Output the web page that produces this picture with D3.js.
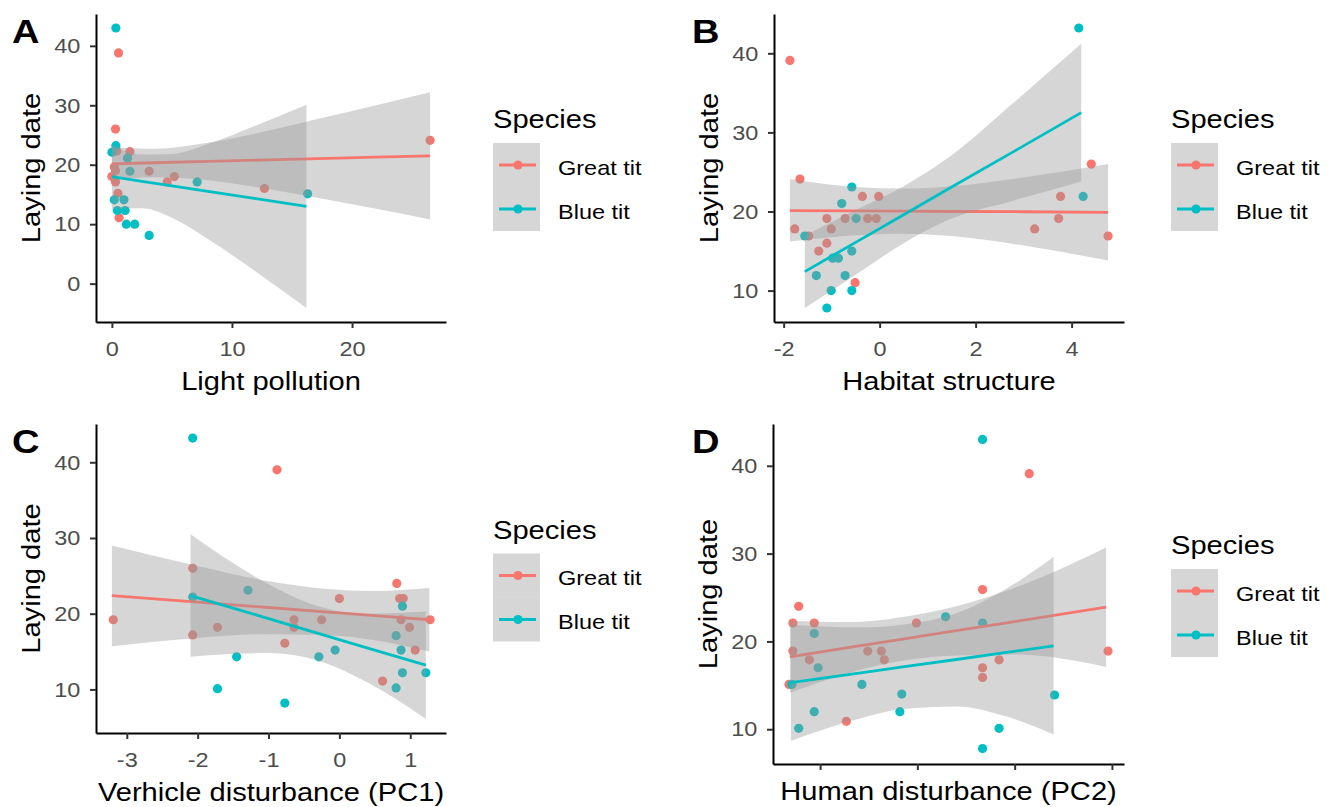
<!DOCTYPE html>
<html>
<head>
<meta charset="utf-8">
<script src="https://cdn.jsdelivr.net/npm/d3@7"></script>
<style>
  body { margin: 0; background: #fff; }
  text { font-family: "Liberation Sans", Arial, sans-serif; }
</style>
</head>
<body>
<svg width="1331" height="807"></svg>
<script>
var species = ["Great tit", "Blue tit"];
var speciesColors = ["#F8766D", "#00BFC4"];

// ---- A: light pollution ----
var lightGreatX = [0.55, 0.3, 0.4, 1.5, 0.3, 0, 0.3, 0.5, 0.6, 3.1, 4.6, 5.2, 12.7, 26.5, 0.2];
var lightGreatY = [38.8, 26.0, 22.3, 22.2, 19.0, 18.0, 17.1, 15.2, 11.1, 18.9, 17.1, 18.0, 16.0, 24.1, 19.6];
var lightBlueX = [0.33, 0.33, 0, 1.3, 1.5, 7.1, 0.2, 1.0, 0.45, 1.1, 1.2, 1.9, 3.1, 16.3];
var lightBlueY = [43.0, 23.2, 22.1, 21.1, 18.9, 17.1, 14.1, 14.1, 12.3, 12.3, 10.0, 10.0, 8.1, 15.1];
var lightGreatFitX = [0, 3.5, 8, 13, 18, 22, 26.5];
var lightGreatFit = [20.15, 20.33, 20.56, 20.81, 21.07, 21.27, 21.5];
var lightGreatHi = [23.0, 22.7, 23.7, 25.7, 28.1, 30.0, 32.2];
var lightGreatLo = [17.3, 17.9, 17.4, 15.9, 14.1, 12.6, 10.8];
var lightBlueFitX = [0, 2.5, 5, 8, 12, 16.2];
var lightBlueFit = [18.0, 17.2, 16.45, 15.5, 14.3, 13.0];
var lightBlueHi = [23.4, 21.7, 21.8, 23.5, 26.6, 30.1];
var lightBlueLo = [12.6, 12.7, 11.1, 7.5, 2.0, -4.1];

// ---- B: habitat structure ----
var habitatGreatX = [-1.87, -1.77, -1.66, -1.48, -1.27, -1.10, -1.10, -1.01, -0.72, -0.51, -0.36, -0.25, -0.07, -0.02, 3.23, 3.73, 3.77, 4.41, 4.76];
var habitatGreatY = [39.1, 17.8, 24.1, 16.9, 15.0, 19.1, 16.0, 17.8, 19.1, 11.0, 21.9, 19.1, 19.1, 21.9, 17.8, 19.1, 21.9, 26.0, 16.9];
var habitatBlueX = [4.15, 4.24, -1.56, -1.32, -1.10, -1.01, -0.58, -0.72, -0.98, -0.86, -0.58, -0.79, -0.58, -0.49];
var habitatBlueY = [43.2, 21.9, 16.9, 11.9, 7.8, 10.0, 10.0, 11.9, 14.1, 14.1, 15.0, 21.0, 23.1, 19.1];
var habitatGreatFitX = [-1.87, -0.5, 0.5, 1.5, 3, 4.76];
var habitatGreatFit = [20.1, 20.07, 20.04, 20.0, 19.97, 19.9];
var habitatGreatHi = [24.1, 23.1, 22.9, 23.2, 24.3, 26.0];
var habitatGreatLo = [16.2, 17.0, 17.2, 16.9, 15.7, 13.8];
var habitatBlueFitX = [-1.56, -0.5, 0.5, 1.5, 2.8, 4.2];
var habitatBlueFit = [12.4, 16.1, 19.6, 23.1, 27.6, 32.5];
var habitatBlueHi = [17.0, 20.2, 23.2, 27.1, 33.8, 41.2];
var habitatBlueLo = [7.8, 12.0, 16.0, 19.1, 21.4, 23.8];

// ---- C: vehicle disturbance (PC1) ----
var vehicleGreatX = [-3.19, -2.07, -2.07, -1.72, -0.88, -0.77, -0.64, -0.64, -0.25, 0, 0.61, 0.81, 0.85, 0.90, 0.87, 0.99, 1.07, 1.28];
var vehicleGreatY = [19.2, 26.0, 17.2, 18.2, 39.0, 16.1, 19.2, 18.2, 19.2, 22.0, 11.1, 24.0, 22.0, 22.0, 19.2, 18.2, 15.2, 19.2];
var vehicleBlueX = [-2.07, -2.07, -1.29, -1.45, -1.72, -0.77, -0.29, -0.06, 0.80, 0.89, 0.87, 0.89, 0.80, 1.22];
var vehicleBlueY = [43.2, 22.2, 23.1, 14.3, 10.1, 8.2, 14.3, 15.2, 17.1, 21.0, 15.2, 12.2, 10.2, 12.2];
var vehicleGreatFitX = [-3.21, -2, -1, -0.2, 0.5, 1.27];
var vehicleGreatFit = [22.4, 21.54, 20.82, 20.25, 19.75, 19.2];
var vehicleGreatHi = [29.0, 26.3, 24.3, 23.3, 23.0, 23.4];
var vehicleGreatLo = [15.7, 16.8, 17.3, 17.2, 16.5, 15.0];
var vehicleBlueFitX = [-2.1, -1.5, -1, -0.3, 0.4, 1.22];
var vehicleBlueFit = [22.4, 20.74, 19.35, 17.4, 15.46, 13.2];
var vehicleBlueHi = [30.5, 26.7, 23.9, 21.0, 20.0, 20.3];
var vehicleBlueLo = [14.3, 14.7, 14.8, 13.8, 10.9, 6.1];

// ---- D: human disturbance (PC2) ----
var humanGreatX = [-1.32, -1.28, -1.28, -1.22, -1.11, -1.06, -0.73, -0.51, -0.37, -0.34, -0.01, 0.67, 0.67, 0.67, 0.84, 1.15, 1.96];
var humanGreatY = [15.1, 22.1, 18.9, 24.0, 17.9, 22.1, 10.9, 18.9, 18.9, 17.9, 22.1, 25.9, 17.0, 15.9, 17.9, 39.1, 18.9];
var humanBlueX = [0.67, 0.29, 0.67, -1.06, -1.02, -1.29, -1.22, -1.06, -0.57, -0.16, -0.18, 0.67, 0.84, 1.41];
var humanBlueY = [43.0, 22.8, 22.1, 20.9, 17.0, 15.1, 10.1, 12.0, 15.1, 14.0, 12.0, 7.8, 10.1, 13.9];
var humanGreatFitX = [-1.31, -0.7, -0.2, 0.4, 1.0, 1.94];
var humanGreatFit = [18.25, 19.31, 20.18, 21.22, 22.26, 23.9];
var humanGreatHi = [22.35, 22.2, 22.7, 24.0, 26.1, 30.7];
var humanGreatLo = [14.15, 16.4, 17.7, 18.4, 18.5, 17.1];
var humanBlueFitX = [-1.30, -0.6, -0.15, 0.4, 0.9, 1.40];
var humanBlueFit = [15.3, 16.39, 17.09, 17.94, 18.72, 19.5];
var humanBlueHi = [21.9, 21.6, 21.9, 23.2, 25.9, 29.6];
var humanBlueLo = [8.7, 11.2, 12.3, 12.6, 11.5, 9.4];

// tick values / labels
var lightTicks = [0, 10, 20];
var habitatTicks = [-2, 0, 2, 4];
var vehicleTicks = [-3, -2, -1, 0, 1];
var humanTicks = [-1, 0, 1, 2];
var humanTickLabels = ["", "", "", ""];
var yTicksA = [0, 10, 20, 30, 40];
var yTicksOther = [10, 20, 30, 40];

function group(x, y, fx, f, lo, hi) {
  return {x: x, y: y, fx: fx, f: f, lo: lo, hi: hi};
}

var panels = [
  {letter: "A", xlab: "Light pollution", xTicks: lightTicks, yTicks: yTicksA,
   left: 96, right: 446, top: 14, bottom: 322, lx: 12,
   groups: [group(lightGreatX, lightGreatY, lightGreatFitX, lightGreatFit, lightGreatLo, lightGreatHi),
            group(lightBlueX, lightBlueY, lightBlueFitX, lightBlueFit, lightBlueLo, lightBlueHi)]},
  {letter: "B", xlab: "Habitat structure", xTicks: habitatTicks, yTicks: yTicksOther,
   left: 774, right: 1124, top: 14, bottom: 322, lx: 692,
   groups: [group(habitatGreatX, habitatGreatY, habitatGreatFitX, habitatGreatFit, habitatGreatLo, habitatGreatHi),
            group(habitatBlueX, habitatBlueY, habitatBlueFitX, habitatBlueFit, habitatBlueLo, habitatBlueHi)]},
  {letter: "C", xlab: "Verhicle disturbance (PC1)", xTicks: vehicleTicks, yTicks: yTicksOther,
   left: 96, right: 446, top: 424, bottom: 733, lx: 12,
   groups: [group(vehicleGreatX, vehicleGreatY, vehicleGreatFitX, vehicleGreatFit, vehicleGreatLo, vehicleGreatHi),
            group(vehicleBlueX, vehicleBlueY, vehicleBlueFitX, vehicleBlueFit, vehicleBlueLo, vehicleBlueHi)]},
  {letter: "D", xlab: "Human disturbance (PC2)", xTicks: humanTicks, xTickLabels: humanTickLabels, yTicks: yTicksOther,
   left: 773, right: 1124, top: 424, bottom: 764, lx: 692,
   groups: [group(humanGreatX, humanGreatY, humanGreatFitX, humanGreatFit, humanGreatLo, humanGreatHi),
            group(humanBlueX, humanBlueY, humanBlueFitX, humanBlueFit, humanBlueLo, humanBlueHi)]}
];

var svg = d3.select("svg");
var SX = "scale(1.12,1)";   // text in the source image is a bit wide

function expand(vals) {
  var e = d3.extent(vals), pad = (e[1] - e[0]) * 0.05;
  return [e[0] - pad, e[1] + pad];
}

function drawPanel(p) {
  var allX = [], allY = [];
  p.groups.forEach(function(g) {
    allX = allX.concat(g.x, g.fx);
    allY = allY.concat(g.y, g.lo, g.hi);
  });
  var x = d3.scaleLinear().domain(expand(allX)).range([p.left, p.right]);
  var y = d3.scaleLinear().domain(expand(allY)).range([p.bottom, p.top]);
  var gp = svg.append("g");

  // points first
  p.groups.forEach(function(g, i) {
    gp.selectAll(null).data(d3.range(g.x.length)).enter()
      .append("circle")
      .attr("cx", function(j) { return x(g.x[j]); })
      .attr("cy", function(j) { return y(g.y[j]); })
      .attr("r", 4.6)
      .attr("fill", speciesColors[i]);
  });

  // ribbon + line per group
  p.groups.forEach(function(g, i) {
    var idx = d3.range(g.fx.length);
    var area = d3.area()
      .x(function(j) { return x(g.fx[j]); })
      .y0(function(j) { return y(g.lo[j]); })
      .y1(function(j) { return y(g.hi[j]); })
      .curve(d3.curveMonotoneX);
    gp.append("path").attr("d", area(idx))
      .attr("fill", "#999999").attr("fill-opacity", 0.4);
    var line = d3.line()
      .x(function(j) { return x(g.fx[j]); })
      .y(function(j) { return y(g.f[j]); });
    gp.append("path").attr("d", line(idx))
      .attr("fill", "none").attr("stroke", speciesColors[i]).attr("stroke-width", 2.8);
  });

  // axes (plain hyphen minus like ggplot)
  var fmt = function(d) { return String(d); };
  var ax = d3.axisBottom(x).tickValues(p.xTicks).tickSize(6).tickSizeOuter(0).tickPadding(13).tickFormat(fmt);
  if (p.xTickLabels) ax.tickFormat(function(d, i) { return p.xTickLabels[i]; });
  var gx = gp.append("g").attr("transform", "translate(0," + p.bottom + ")").call(ax);
  var ay = d3.axisLeft(y).tickValues(p.yTicks).tickSize(6).tickSizeOuter(0).tickPadding(8).tickFormat(fmt);
  var gy = gp.append("g").attr("transform", "translate(" + p.left + ",0)").call(ay);
  [gx, gy].forEach(function(g) {
    g.select(".domain").attr("stroke", "#000").attr("stroke-width", 2);
    g.selectAll(".tick line").attr("stroke", "#333").attr("stroke-width", 2);
    g.selectAll(".tick text").attr("fill", "#4D4D4D").attr("font-size", 21)
      .attr("font-family", "Liberation Sans, Arial, sans-serif").attr("transform", SX);
  });

  // titles
  var xTitleY = p.xTickLabels ? p.bottom + 36 : p.bottom + 68;
  gp.append("text").attr("transform", "translate(" + ((p.left + p.right) / 2) + "," + xTitleY + ") " + SX)
    .attr("text-anchor", "middle").attr("font-size", 26).attr("fill", "#000").text(p.xlab);
  gp.append("text").attr("transform", "translate(" + (p.left - 56) + "," + ((p.top + p.bottom) / 2) + ") rotate(-90) " + SX)
    .attr("text-anchor", "middle").attr("font-size", 26).attr("fill", "#000").text("Laying date");
  gp.append("text").attr("transform", "translate(" + p.lx + "," + (p.top + 29) + ") " + SX)
    .attr("font-size", 34).attr("font-weight", "bold").attr("fill", "#000").text(p.letter);

  // legend
  var lx = p.right + 47, cy = (p.top + p.bottom) / 2;
  var lg = gp.append("g");
  lg.append("text").attr("transform", "translate(" + lx + "," + (cy - 40) + ") " + SX)
    .attr("font-size", 26).attr("fill", "#000").text("Species");
  species.forEach(function(s, i) {
    var ky = cy - 25 + i * 44;
    lg.append("rect").attr("x", lx).attr("y", ky).attr("width", 47).attr("height", 44)
      .attr("fill", "#999999").attr("fill-opacity", 0.4);
    lg.append("line").attr("x1", lx + 6).attr("x2", lx + 43).attr("y1", ky + 22).attr("y2", ky + 22)
      .attr("stroke", speciesColors[i]).attr("stroke-width", 2.8);
    lg.append("circle").attr("cx", lx + 25).attr("cy", ky + 22).attr("r", 4.6).attr("fill", speciesColors[i]);
    lg.append("text").attr("transform", "translate(" + (lx + 65) + "," + (ky + 31.5) + ") " + SX)
      .attr("font-size", 21).attr("fill", "#000").text(s);
  });
}

panels.forEach(drawPanel);
</script>
</body>
</html>
